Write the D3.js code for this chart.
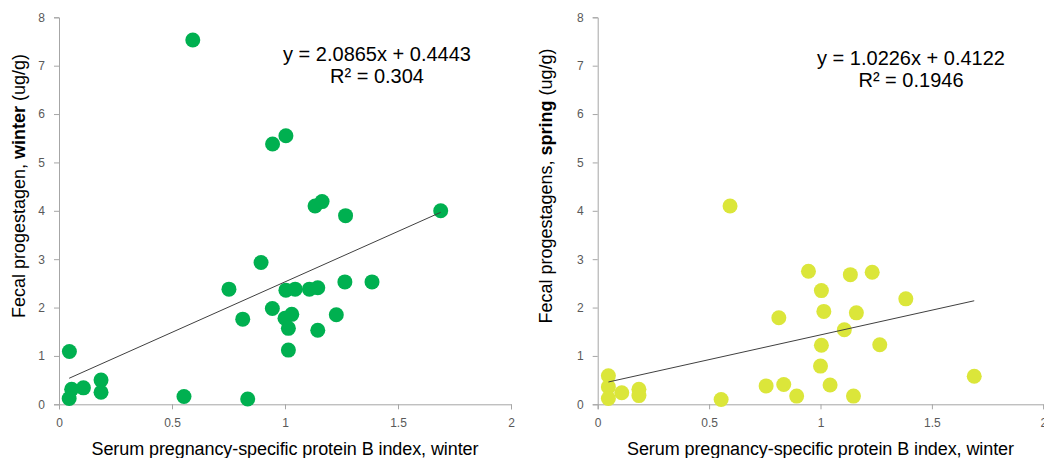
<!DOCTYPE html>
<html>
<head>
<meta charset="utf-8">
<script src="https://cdn.jsdelivr.net/npm/d3@7"></script>
<style>
  body { margin: 0; background: #fff; }
  svg { display: block; font-family: "Liberation Sans", Arial, sans-serif; }
  .axis path, .axis line { stroke: #a6a6a6; }
  .axis text { fill: #595959; font-size: 12px; font-family: "Liberation Sans", Arial, sans-serif; }
</style>
</head>
<body>
<div id="chart"></div>
<script>
// serum PSPB index (x) vs fecal progestagens (y)
const winterX = [0.592, 0.945, 1.004, 1.133, 1.164, 1.268, 1.689, 0.894, 0.752, 1.004, 1.045, 1.108, 1.145, 1.265, 1.385,
  0.944, 0.813, 1.0, 1.03, 1.227, 1.015, 1.145, 1.015, 0.046, 0.186, 0.186, 0.108, 0.056, 0.045, 0.553, 0.835];
const winterY = [7.53, 5.38, 5.55, 4.10, 4.19, 3.90, 4.00, 2.93, 2.38, 2.36, 2.38, 2.38, 2.41, 2.53, 2.53,
  1.98, 1.76, 1.78, 1.86, 1.85, 1.57, 1.53, 1.12, 1.09, 0.50, 0.25, 0.34, 0.31, 0.12, 0.16, 0.11];

const springX = [0.594, 0.946, 1.134, 1.232, 1.004, 1.383, 1.015, 1.161, 0.813, 1.107, 1.004, 1.266, 1.0, 1.69,
  0.756, 0.835, 0.893, 1.043, 1.148, 0.048, 0.048, 0.108, 0.185, 0.185, 0.048, 0.554];
const springY = [4.10, 2.75, 2.68, 2.73, 2.35, 2.18, 1.92, 1.89, 1.79, 1.54, 1.22, 1.23, 0.79, 0.58,
  0.38, 0.41, 0.17, 0.40, 0.17, 0.59, 0.36, 0.24, 0.31, 0.18, 0.12, 0.10];

const xTicks = [0, 0.5, 1, 1.5, 2];
const yTicks = [0, 1, 2, 3, 4, 5, 6, 7, 8];

const panels = [
  { xs: winterX, ys: winterY, slope: 2.0865, icpt: 0.4443, eq: "y = 2.0865x + 0.4443", r2: "R² = 0.304",
    season: "winter", yPre: "Fecal progestagen, ", color: "#00b050",
    left: 59, right: 511, eqX: 377, eqY: 61, titleX: 25 },
  { xs: springX, ys: springY, slope: 1.0226, icpt: 0.4122, eq: "y = 1.0226x + 0.4122", r2: "R² = 0.1946",
    season: "spring", yPre: "Fecal progestagens, ", color: "#dbe63a",
    left: 597.7, right: 1043.3, eqX: 911, eqY: 65, titleX: 551.5 }
];

const plotTop = 17.3, plotBottom = 404.3;

const svg = d3.select("#chart").append("svg")
  .attr("width", 1044)
  .attr("height", 458);

panels.forEach((p) => {
  const x = d3.scaleLinear().domain([0, 2]).range([p.left, p.right]);
  const y = d3.scaleLinear().domain([0, 8]).range([plotBottom, plotTop]);
  const g = svg.append("g");

  g.append("g")
    .attr("class", "axis")
    .attr("transform", `translate(0,${plotBottom})`)
    .call(d3.axisBottom(x).tickValues(xTicks).tickSize(5).tickPadding(9).tickFormat(d3.format("")));

  g.append("g")
    .attr("class", "axis")
    .attr("transform", `translate(${p.left},0)`)
    .call(d3.axisLeft(y).tickValues(yTicks).tickSize(5).tickPadding(9));

  g.selectAll(".domain").attr("stroke", "#a6a6a6");

  // points
  const pts = p.xs.map((v, i) => [v, p.ys[i]]);
  g.append("g")
    .selectAll("circle")
    .data(pts)
    .enter()
    .append("circle")
    .attr("cx", (d) => x(d[0]))
    .attr("cy", (d) => y(d[1]))
    .attr("r", 7.5)
    .attr("fill", p.color);

  // linear trendline
  const [x0, x1] = d3.extent(p.xs);
  g.append("line")
    .attr("x1", x(x0))
    .attr("y1", y(p.slope * x0 + p.icpt))
    .attr("x2", x(x1))
    .attr("y2", y(p.slope * x1 + p.icpt))
    .attr("stroke", "#404040")
    .attr("stroke-width", 1);

  g.append("text")
    .attr("x", p.eqX)
    .attr("y", p.eqY)
    .attr("text-anchor", "middle")
    .attr("font-size", 20)
    .text(p.eq);
  g.append("text")
    .attr("x", p.eqX)
    .attr("y", p.eqY + 22)
    .attr("text-anchor", "middle")
    .attr("font-size", 20)
    .text(p.r2);

  // axis titles
  g.append("text")
    .attr("x", (p.left + p.right) / 2)
    .attr("y", 455)
    .attr("text-anchor", "middle")
    .attr("font-size", 18)
    .attr("textLength", 387)
    .text("Serum pregnancy-specific protein B index, winter");

  const yt = g.append("text")
    .attr("transform", `translate(${p.titleX},186) rotate(-90)`)
    .attr("text-anchor", "middle")
    .attr("font-size", 18);
  yt.append("tspan").text(p.yPre);
  yt.append("tspan").attr("font-weight", "bold").text(p.season);
  yt.append("tspan").text(" (ug/g)");
});
</script>
</body>
</html>
